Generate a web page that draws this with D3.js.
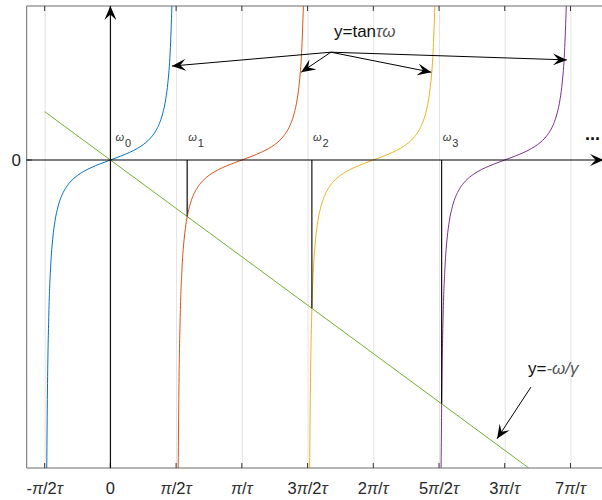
<!DOCTYPE html>
<html><head><meta charset="utf-8">
<script src="https://cdn.jsdelivr.net/npm/d3@7/dist/d3.min.js"></script>
<style>body{margin:0;background:#fff}svg{display:block;font-family:"Liberation Sans",Arial,sans-serif}</style>
</head><body><svg id="c" width="602" height="500"></svg>
<script>
// ---- data ----
const PI = Math.PI;
const tickValues = [-PI/2, 0, PI/2, PI, 3*PI/2, 2*PI, 5*PI/2, 3*PI, 7*PI/2];
const tickLabels = ["-π/2τ", "0", "π/2τ", "π/τ", "3π/2τ", "2π/τ", "5π/2τ", "3π/τ", "7π/τ"];
const yTickValues = [0];
const yTickLabels = ["0"];
// tan branch shape: offset from branch centre (rad) and value
const branchOffset = [-1.5208,-1.5042,-1.4711,-1.4289,-1.3734,-1.3258,-1.2490,-1.1903,-1.1071,-0.9828,-0.8961,-0.7854,-0.6435,-0.4636,-0.2450,0,
                       0.2450,0.4636,0.6435,0.7854,0.8961,0.9828,1.1071,1.1903,1.2490,1.3258,1.3734,1.4289,1.4711];
const branchValue  = [-20,-15,-10,-7,-5,-4,-3,-2.5,-2,-1.5,-1.25,-1,-0.75,-0.5,-0.25,0,
                       0.25,0.5,0.75,1,1.25,1.5,2,2.5,3,4,5,7,10];
const branchCentres = [0, PI, 2*PI, 3*PI];
const branchColors = ["#0072BD", "#D95319", "#EDB120", "#7E2F8E"];
// line y = -ω/γ
const lineOmega = [-PI/2, 10];
const lineValue = [PI, -20];
// roots ω_k and the line value there
const rootOmega = [0, 1.8366, 4.8158, 7.9170];
const rootValue = [0, -3.673, -9.632, -15.834];
const rootNames = ["0", "1", "2", "3"];

// ---- layout ----
const svg = d3.select("#c");
const L = 26.7, T = 6, B = 468, R = 608.3;
const x = d3.scaleLinear().domain([-2, 11.9]).range([L, R]);
const y = d3.scaleLinear().domain([-20, 10]).range([B, T]);

svg.append("defs").append("clipPath").attr("id","clip")
  .append("rect").attr("x",L).attr("y",T).attr("width",R-L).attr("height",B-T);
const defs = svg.select("defs");
function marker(id, len, wid){
  defs.append("marker").attr("id",id).attr("markerUnits","userSpaceOnUse")
    .attr("viewBox",`${-len} ${-wid/2} ${len} ${wid}`)
    .attr("refX",0).attr("refY",0).attr("markerWidth",len).attr("markerHeight",wid)
    .attr("orient","auto")
    .append("path").attr("d",`M0,0 L${-len},${-wid/2} L${-len*0.6},0 L${-len},${wid/2} Z`).attr("fill","#000");
}
marker("ah", 14, 12);
marker("axh", 14, 12);

// grid
svg.append("g").attr("transform",`translate(0,${B})`)
  .call(d3.axisBottom(x).tickValues(tickValues).tickSize(-(B-T)).tickFormat(""))
  .call(g=>{g.select(".domain").remove(); g.selectAll("line").attr("stroke","#e3e3e3").attr("stroke-width",1);});

const plot = svg.append("g").attr("clip-path","url(#clip)");

// tan branches
const lineGen = d3.line().x(d=>x(d[0])).y(d=>y(d[1])).curve(d3.curveMonotoneX);
branchCentres.forEach((c,i)=>{
  const pts = branchOffset.map((o,j)=>[c+o, branchValue[j]]);
  plot.append("path").attr("d",lineGen(pts)).attr("fill","none")
    .attr("stroke",branchColors[i]).attr("stroke-width",1);
});
// green line
plot.append("path").attr("d",lineGen(lineOmega.map((w,i)=>[w,lineValue[i]])))
  .attr("fill","none").attr("stroke","#77AC30").attr("stroke-width",1);

// root vertical lines
rootOmega.forEach((w,i)=>{
  if(i===0) return;
  plot.append("line").attr("x1",x(w)).attr("x2",x(w)).attr("y1",y(0)).attr("y2",y(rootValue[i]))
    .attr("stroke", i===1 ? "#444" : "#000").attr("stroke-width", i===1 ? 1.6 : 1.1);
});

// box
svg.append("path").attr("d",`M${R},${T}H${L}V${B}H${R}`).attr("fill","none").attr("stroke","#6b6b6b").attr("stroke-width",1);
// ticks bottom and top
const tk = svg.append("g");
tickValues.forEach(v=>{
  tk.append("line").attr("x1",x(v)).attr("x2",x(v)).attr("y1",B).attr("y2",B-5).attr("stroke","#333");
  tk.append("line").attr("x1",x(v)).attr("x2",x(v)).attr("y1",T).attr("y2",T+5).attr("stroke","#333");
});
yTickValues.forEach(v=>{
  tk.append("line").attr("x1",L).attr("x2",L+5).attr("y1",y(v)).attr("y2",y(v)).attr("stroke","#333");
});

// axes lines with arrows
svg.append("line").attr("x1",L).attr("x2",604).attr("y1",y(0)).attr("y2",y(0))
  .attr("stroke","#000").attr("stroke-width",1.1).attr("marker-end","url(#axh)");
svg.append("line").attr("x1",x(0)).attr("x2",x(0)).attr("y1",B).attr("y2",T)
  .attr("stroke","#000").attr("stroke-width",1.1).attr("marker-end","url(#axh)");

// tick labels
function richText(sel, str){
  for(const ch of str){
    const t = sel.append("tspan").text(ch);
    if(ch==="π"||ch==="τ") t.attr("font-style","italic").attr("fill","#333");
  }
}
tickValues.forEach((v,i)=>{
  const t = svg.append("text").attr("x",x(v)).attr("y",494).attr("text-anchor","middle")
    .attr("font-size",16.5).attr("fill","#262626");
  richText(t, tickLabels[i]);
});
yTickValues.forEach((v,i)=>{
  svg.append("text").attr("x",21).attr("y",y(v)+6).attr("text-anchor","end")
    .attr("font-size",17).attr("fill","#262626").text(yTickLabels[i]);
});

// root labels
rootOmega.forEach((w,i)=>{
  const px = x(w) + (i===0 ? 5 : 1);
  const t = svg.append("text").attr("x",px).attr("y",141).attr("fill","#333");
  t.append("tspan").attr("font-size",11).attr("font-style","italic").text("ω");
  t.append("tspan").attr("font-size",11).attr("dy",6).attr("dx",1).text(rootNames[i]);
});

// dots
svg.append("text").attr("x",585).attr("y",140).attr("font-size",18).attr("font-weight","bold").attr("fill","#111").text("...");

// annotations
const a1 = svg.append("text").attr("x",334).attr("y",37).attr("font-size",17).attr("fill","#111");
a1.append("tspan").text("y=tan");
a1.append("tspan").attr("font-style","italic").attr("fill","#555").text("τω");
const ann1From = [5.27, 7.0];
const ann1To = [[1.47, 6.1], [4.56, 5.7], [7.67, 5.7], [10.91, 6.5]];
ann1To.forEach(p=>{
  svg.append("line").attr("x1",x(ann1From[0])).attr("y1",y(ann1From[1])).attr("x2",x(p[0])).attr("y2",y(p[1]))
    .attr("stroke","#000").attr("stroke-width",1).attr("marker-end","url(#ah)");
});
const a2 = svg.append("text").attr("x",528).attr("y",374).attr("font-size",17).attr("fill","#111");
a2.append("tspan").text("y=");
a2.append("tspan").attr("fill","#555").attr("font-style","italic").text("-ω/γ");
const ann2From = [10.05, -14.75];
const ann2To = [9.24, -18.1];
svg.append("line").attr("x1",x(ann2From[0])).attr("y1",y(ann2From[1])).attr("x2",x(ann2To[0])).attr("y2",y(ann2To[1]))
  .attr("stroke","#000").attr("stroke-width",1).attr("marker-end","url(#ah)");
</script></body></html>
